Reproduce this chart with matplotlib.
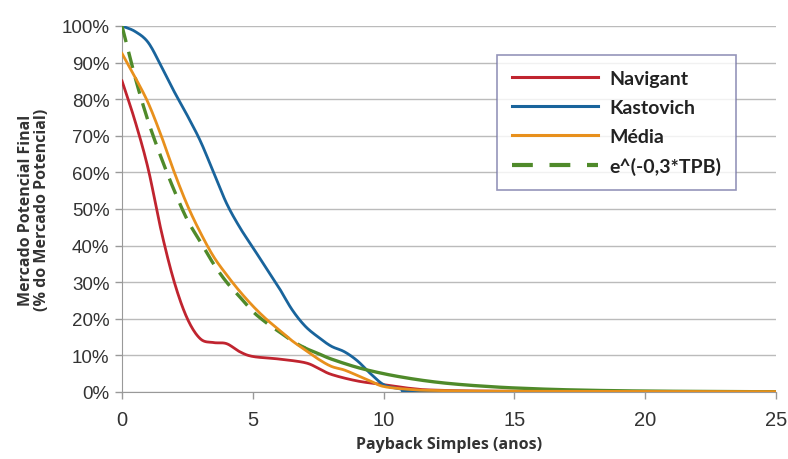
import numpy as np
import matplotlib
matplotlib.use("Agg")
import matplotlib.pyplot as plt
from matplotlib.lines import Line2D

# -------------------------
# Data
# -------------------------
x_nav = [0, 0.5, 1, 1.5, 2, 2.5, 3, 3.5, 4, 4.5, 5, 6, 7, 7.5, 8, 9, 10, 11, 12, 15, 25]
y_nav = [85, 74, 61, 44, 30, 20, 14.5, 13.5, 13.2, 11, 9.7, 9, 8, 6.5, 4.8, 3, 2, 1, 0.5, 0.2, 0.1]

x_kas = [0, 0.5, 1, 1.5, 2, 2.5, 3, 3.5, 4, 4.5, 5, 5.5, 6, 6.5, 7, 7.5, 8, 8.5, 9, 9.5, 10, 10.5, 11, 12, 25]
y_kas = [100, 98.5, 95.5, 89, 82, 75.5, 68.5, 60, 51.5, 45, 39.5, 34, 28.5, 22.5, 18, 15, 12.5, 11, 8.5, 5, 2, 1, 0.5, 0.2, 0.1]

x_med = [0, 0.5, 1, 1.5, 2, 2.5, 3, 3.5, 4, 4.5, 5, 5.5, 6, 6.5, 7, 7.5, 8, 8.5, 9, 9.5, 10, 11, 12, 15, 25]
y_med = [92.5, 86, 79, 70, 60, 51, 43.5, 37, 32, 27.5, 23.5, 20, 17, 14, 11.5, 9, 7, 6, 4.5, 3, 1.5, 0.7, 0.4, 0.2, 0.1]

x_exp = [0, 0.5, 1, 1.5, 2, 2.5, 3, 3.5, 4, 4.5, 5, 5.5, 6, 6.5, 7, 7.5, 8, 9, 10, 11, 12, 13, 14, 15, 17, 20, 25]
y_exp = [100, 86, 74, 64, 55, 47, 41, 35, 30, 26, 22, 19, 16.5, 14, 12, 10.5, 9, 6.7, 5, 3.7, 2.7, 2, 1.5, 1.1, 0.6, 0.25, 0.05]

x_ticks = [0, 5, 10, 15, 20, 25]
y_ticks = [0, 10, 20, 30, 40, 50, 60, 70, 80, 90, 100]

C_NAV = "#c0242f"
C_KAS = "#19649c"
C_MED = "#e8901c"
C_EXP = "#4f8a2a"


def smooth(x, y, n=16):
    """Catmull-Rom path through the points (Excel-style smoothed line)."""
    x = np.asarray(x, float)
    y = np.asarray(y, float)
    px = np.concatenate([[2 * x[0] - x[1]], x, [2 * x[-1] - x[-2]]])
    py = np.concatenate([[2 * y[0] - y[1]], y, [2 * y[-1] - y[-2]]])
    t = np.linspace(0, 1, n, endpoint=False)
    xs, ys = [], []
    for i in range(1, len(px) - 2):
        for arr, out in ((px, xs), (py, ys)):
            p0, p1, p2, p3 = arr[i - 1], arr[i], arr[i + 1], arr[i + 2]
            out.append(0.5 * (2 * p1 + (p2 - p0) * t
                              + (2 * p0 - 5 * p1 + 4 * p2 - p3) * t ** 2
                              + (3 * p1 - p0 - 3 * p2 + p3) * t ** 3))
    xs.append([x[-1]])
    ys.append([y[-1]])
    return np.concatenate(xs), np.concatenate(ys)


def main():
    fig = plt.figure(figsize=(7.88, 4.6), dpi=100)
    ax = fig.add_axes([0.1548, 0.1457, 0.830, 0.7957])

    ax.plot(*smooth(x_nav, y_nav), color=C_NAV, lw=2.0, zorder=3)
    ax.plot(*smooth(x_kas, y_kas), color=C_KAS, lw=2.0, zorder=3)
    ax.plot(*smooth(x_med, y_med), color=C_MED, lw=2.0, zorder=4)

    # dashed up to ~7, drawn solid after that (as in the reference)
    xe, ye = smooth(x_exp, y_exp)
    m = xe <= 7
    ax.plot(xe[m], ye[m], color=C_EXP, lw=2.4, ls=(0, (5, 3)), zorder=3)
    ax.plot(xe[xe >= 6.95], ye[xe >= 6.95], color=C_EXP, lw=2.4, zorder=3)

    ax.set_xlim(0, 25)
    ax.set_ylim(0, 100)
    ax.set_xticks(x_ticks)
    ax.set_yticks(y_ticks)
    ax.set_yticklabels([f"{v}%" for v in y_ticks])
    ax.tick_params(axis="both", colors="#999999", length=5, width=1,
                   labelcolor="#333333")
    ax.tick_params(axis="y", labelsize=13.5, pad=4)
    ax.tick_params(axis="x", labelsize=14.5, pad=8)
    for lab in ax.get_xticklabels() + ax.get_yticklabels():
        lab.set_family("Liberation Sans")

    ax.grid(axis="y", color="#bbbbbb", lw=1)
    ax.set_axisbelow(True)
    for s in ["top", "right"]:
        ax.spines[s].set_visible(False)
    ax.spines["left"].set_color("#999999")
    ax.spines["bottom"].set_color("#999999")

    ax.set_xlabel("Payback Simples (anos)", fontsize=11.5, fontweight="bold",
                  family="Open Sans", color="#333333", labelpad=5)
    ax.set_ylabel("Mercado Potencial Final\n(% do Mercado Potencial)", fontsize=11.5,
                  fontweight="bold", family="Open Sans", color="#333333", labelpad=8,
                  linespacing=1.0)

    handles = [
        Line2D([], [], color=C_NAV, lw=2.2),
        Line2D([], [], color=C_KAS, lw=2.2),
        Line2D([], [], color=C_MED, lw=2.2),
        Line2D([], [], color=C_EXP, lw=3, ls=(0, (5, 4))),
    ]
    labels = ["Navigant", "Kastovich", "Média", "e^(-0,3*TPB)"]
    leg = ax.legend(handles, labels, loc="upper left", bbox_to_anchor=(0.574, 0.92),
                    frameon=True, fancybox=False, handlelength=4.4, handletextpad=0.6,
                    labelspacing=0.62, borderpad=0.75, borderaxespad=0,
                    prop={"family": "Lato", "weight": "bold", "size": 14})
    leg.get_frame().set_edgecolor("#7a7aa8")
    leg.get_frame().set_linewidth(1.2)
    for t in leg.get_texts():
        t.set_color("#222222")

    fig.savefig("out.png", dpi=100)
    plt.close(fig)


if __name__ == "__main__":
    main()
